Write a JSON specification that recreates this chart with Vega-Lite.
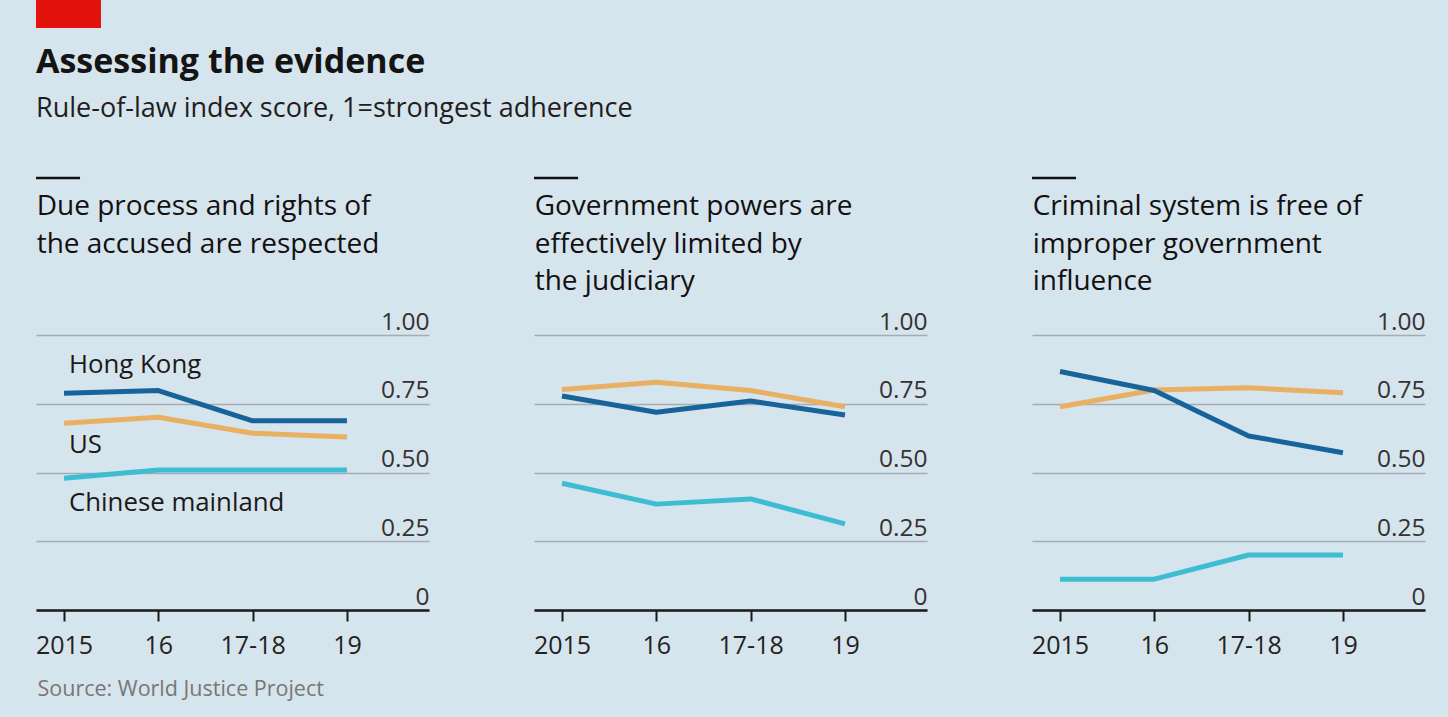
{
  "$schema": "https://vega.github.io/schema/vega-lite/v6.json",
  "background": "#d6e4ed",
  "padding": {"left": 34, "top": 0, "right": 25, "bottom": 20},
  "autosize": {"type": "pad"},
  "bounds": "flush",
  "spacing": 105,
  "title": {
    "text": "Assessing the evidence",
    "subtitle": "Rule-of-law index score, 1=strongest adherence",
    "anchor": "start",
    "frame": "group",
    "offset": -122,
    "font": "Open Sans",
    "fontSize": 34,
    "fontWeight": "bold",
    "color": "#141414",
    "subtitleFont": "Open Sans",
    "subtitleFontSize": 27,
    "subtitleColor": "#1e1e1e",
    "subtitlePadding": 16
  },
  "config": {
    "font": "Open Sans",
    "view": {"stroke": null},
    "axis": {"labelFont": "Open Sans", "titleFont": "Open Sans"}
  },
  "datasets": {
    "scores": [
      {"panel": "p1", "country": "US", "i": 0, "value": 0.679},
      {"panel": "p1", "country": "US", "i": 1, "value": 0.701},
      {"panel": "p1", "country": "US", "i": 2, "value": 0.643},
      {"panel": "p1", "country": "US", "i": 3, "value": 0.629},
      {"panel": "p1", "country": "Chinese mainland", "i": 0, "value": 0.479},
      {"panel": "p1", "country": "Chinese mainland", "i": 1, "value": 0.509},
      {"panel": "p1", "country": "Chinese mainland", "i": 2, "value": 0.509},
      {"panel": "p1", "country": "Chinese mainland", "i": 3, "value": 0.509},
      {"panel": "p1", "country": "Hong Kong", "i": 0, "value": 0.788},
      {"panel": "p1", "country": "Hong Kong", "i": 1, "value": 0.798},
      {"panel": "p1", "country": "Hong Kong", "i": 2, "value": 0.688},
      {"panel": "p1", "country": "Hong Kong", "i": 3, "value": 0.688},
      {"panel": "p2", "country": "US", "i": 0, "value": 0.802},
      {"panel": "p2", "country": "US", "i": 1, "value": 0.828},
      {"panel": "p2", "country": "US", "i": 2, "value": 0.798},
      {"panel": "p2", "country": "US", "i": 3, "value": 0.739},
      {"panel": "p2", "country": "Chinese mainland", "i": 0, "value": 0.461},
      {"panel": "p2", "country": "Chinese mainland", "i": 1, "value": 0.385},
      {"panel": "p2", "country": "Chinese mainland", "i": 2, "value": 0.404},
      {"panel": "p2", "country": "Chinese mainland", "i": 3, "value": 0.313},
      {"panel": "p2", "country": "Hong Kong", "i": 0, "value": 0.778},
      {"panel": "p2", "country": "Hong Kong", "i": 1, "value": 0.719},
      {"panel": "p2", "country": "Hong Kong", "i": 2, "value": 0.760},
      {"panel": "p2", "country": "Hong Kong", "i": 3, "value": 0.709},
      {"panel": "p3", "country": "US", "i": 0, "value": 0.739},
      {"panel": "p3", "country": "US", "i": 1, "value": 0.800},
      {"panel": "p3", "country": "US", "i": 2, "value": 0.808},
      {"panel": "p3", "country": "US", "i": 3, "value": 0.790},
      {"panel": "p3", "country": "Chinese mainland", "i": 0, "value": 0.112},
      {"panel": "p3", "country": "Chinese mainland", "i": 1, "value": 0.112},
      {"panel": "p3", "country": "Chinese mainland", "i": 2, "value": 0.200},
      {"panel": "p3", "country": "Chinese mainland", "i": 3, "value": 0.200},
      {"panel": "p3", "country": "Hong Kong", "i": 0, "value": 0.867},
      {"panel": "p3", "country": "Hong Kong", "i": 1, "value": 0.798},
      {"panel": "p3", "country": "Hong Kong", "i": 2, "value": 0.633},
      {"panel": "p3", "country": "Hong Kong", "i": 3, "value": 0.572}
    ],
    "one": [{"k": 1}]
  },
  "hconcat": [
    {
      "width": 393,
      "height": 275,
      "layer": [
        {
          "data": {"name": "scores"},
          "transform": [{"filter": "datum.panel == 'p1'"}],
          "mark": {"type": "line", "strokeWidth": 5, "strokeCap": "butt", "strokeJoin": "round", "clip": false},
          "encoding": {
            "x": {"field": "i", "type": "quantitative",
              "scale": {"domain": [-0.297, 3.87], "nice": false, "zero": false},
              "axis": {"values": [0, 1, 2, 3], "labelExpr": "datum.value == 0 ? '2015' : datum.value == 1 ? '16' : datum.value == 2 ? '17-18' : '19'",
                "grid": false, "domain": true, "domainColor": "#1a1a1a", "domainWidth": 2.5, "ticks": true, "tickColor": "#1a1a1a", "tickWidth": 2, "tickSize": 11,
                "labelPadding": 12, "labelFontSize": 25, "labelColor": "#222222", "labelFlush": false, "labelOverlap": false,
                "title": "Source: World Justice Project", "titleAnchor": "start", "titleAlign": "left", "titleX": 1, "titleY": 85, "titleBaseline": "alphabetic",
                "titleFontSize": 21.5, "titleFontWeight": "normal", "titleColor": "#777777"}},
            "y": {"field": "value", "type": "quantitative",
              "scale": {"domain": [0, 1], "nice": false, "zero": false},
              "axis": {"orient": "right", "values": [0, 0.25, 0.5, 0.75, 1], "grid": true, "gridColor": "#a3adb4", "gridWidth": 1.3,
                "domain": false, "ticks": false, "labelAlign": "right", "labelPadding": 0, "labelOffset": -6, "labelBaseline": "alphabetic",
                "labelFontSize": 24.5, "labelColor": "#333333", "labelFlush": false, "labelOverlap": false,
                "labelExpr": "datum.value == 0 ? '0' : format(datum.value, '.2f')", "title": null}},
            "color": {"field": "country", "type": "nominal",
              "scale": {"domain": ["Hong Kong", "US", "Chinese mainland"], "range": ["#17649a", "#e8b062", "#3dbdd1"]},
              "legend": null}
          }
        },
        {
          "data": {"name": "one"},
          "mark": {"type": "rect", "color": "#e3120b", "clip": false},
          "encoding": {"x": {"datum": -0.297}, "x2": {"datum": 0.392}, "y": {"datum": 2.218}, "y2": {"datum": 2.116}}
        },
        {
          "data": {"name": "one"},
          "mark": {"type": "rule", "color": "#111111", "strokeWidth": 2.5, "clip": false},
          "encoding": {"x": {"datum": -0.297}, "x2": {"datum": 0.17}, "y": {"datum": 1.571}}
        },
        {
          "data": {"name": "one"},
          "mark": {"type": "text", "text": ["Due process and rights of", "the accused are respected"], "align": "left", "baseline": "alphabetic", "fontSize": 28, "fontWeight": 500, "lineHeight": 37.5, "color": "#111111", "clip": false},
          "encoding": {"x": {"datum": -0.29}, "y": {"datum": 1.436}}
        },
        {
          "data": {"name": "one"},
          "mark": {"type": "text", "text": "Hong Kong", "align": "left", "baseline": "alphabetic", "fontSize": 25.8, "color": "#1a1a1a"},
          "encoding": {"x": {"datum": 0.053}, "y": {"datum": 0.862}}
        },
        {
          "data": {"name": "one"},
          "mark": {"type": "text", "text": "US", "align": "left", "baseline": "alphabetic", "fontSize": 25.8, "color": "#1a1a1a"},
          "encoding": {"x": {"datum": 0.053}, "y": {"datum": 0.571}}
        },
        {
          "data": {"name": "one"},
          "mark": {"type": "text", "text": "Chinese mainland", "align": "left", "baseline": "alphabetic", "fontSize": 25.8, "color": "#1a1a1a"},
          "encoding": {"x": {"datum": 0.053}, "y": {"datum": 0.361}}
        }
      ]
    },
    {
      "width": 393,
      "height": 275,
      "layer": [
        {
          "data": {"name": "scores"},
          "transform": [{"filter": "datum.panel == 'p2'"}],
          "mark": {"type": "line", "strokeWidth": 5, "strokeCap": "butt", "strokeJoin": "round", "clip": false},
          "encoding": {
            "x": {"field": "i", "type": "quantitative",
              "scale": {"domain": [-0.297, 3.87], "nice": false, "zero": false},
              "axis": {"values": [0, 1, 2, 3], "labelExpr": "datum.value == 0 ? '2015' : datum.value == 1 ? '16' : datum.value == 2 ? '17-18' : '19'",
                "grid": false, "domain": true, "domainColor": "#1a1a1a", "domainWidth": 2.5, "ticks": true, "tickColor": "#1a1a1a", "tickWidth": 2, "tickSize": 11,
                "labelPadding": 12, "labelFontSize": 25, "labelColor": "#222222", "labelFlush": false, "labelOverlap": false, "title": null}},
            "y": {"field": "value", "type": "quantitative",
              "scale": {"domain": [0, 1], "nice": false, "zero": false},
              "axis": {"orient": "right", "values": [0, 0.25, 0.5, 0.75, 1], "grid": true, "gridColor": "#a3adb4", "gridWidth": 1.3,
                "domain": false, "ticks": false, "labelAlign": "right", "labelPadding": 0, "labelOffset": -6, "labelBaseline": "alphabetic",
                "labelFontSize": 24.5, "labelColor": "#333333", "labelFlush": false, "labelOverlap": false,
                "labelExpr": "datum.value == 0 ? '0' : format(datum.value, '.2f')", "title": null}},
            "color": {"field": "country", "type": "nominal",
              "scale": {"domain": ["Hong Kong", "US", "Chinese mainland"], "range": ["#17649a", "#e8b062", "#3dbdd1"]},
              "legend": null}
          }
        },
        {
          "data": {"name": "one"},
          "mark": {"type": "rule", "color": "#111111", "strokeWidth": 2.5, "clip": false},
          "encoding": {"x": {"datum": -0.297}, "x2": {"datum": 0.17}, "y": {"datum": 1.571}}
        },
        {
          "data": {"name": "one"},
          "mark": {"type": "text", "text": ["Government powers are", "effectively limited by", "the judiciary"], "align": "left", "baseline": "alphabetic", "fontSize": 28, "fontWeight": 500, "lineHeight": 37.5, "color": "#111111", "clip": false},
          "encoding": {"x": {"datum": -0.29}, "y": {"datum": 1.436}}
        }
      ]
    },
    {
      "width": 393,
      "height": 275,
      "layer": [
        {
          "data": {"name": "scores"},
          "transform": [{"filter": "datum.panel == 'p3'"}],
          "mark": {"type": "line", "strokeWidth": 5, "strokeCap": "butt", "strokeJoin": "round", "clip": false},
          "encoding": {
            "x": {"field": "i", "type": "quantitative",
              "scale": {"domain": [-0.297, 3.87], "nice": false, "zero": false},
              "axis": {"values": [0, 1, 2, 3], "labelExpr": "datum.value == 0 ? '2015' : datum.value == 1 ? '16' : datum.value == 2 ? '17-18' : '19'",
                "grid": false, "domain": true, "domainColor": "#1a1a1a", "domainWidth": 2.5, "ticks": true, "tickColor": "#1a1a1a", "tickWidth": 2, "tickSize": 11,
                "labelPadding": 12, "labelFontSize": 25, "labelColor": "#222222", "labelFlush": false, "labelOverlap": false, "title": null}},
            "y": {"field": "value", "type": "quantitative",
              "scale": {"domain": [0, 1], "nice": false, "zero": false},
              "axis": {"orient": "right", "values": [0, 0.25, 0.5, 0.75, 1], "grid": true, "gridColor": "#a3adb4", "gridWidth": 1.3,
                "domain": false, "ticks": false, "labelAlign": "right", "labelPadding": 0, "labelOffset": -6, "labelBaseline": "alphabetic",
                "labelFontSize": 24.5, "labelColor": "#333333", "labelFlush": false, "labelOverlap": false,
                "labelExpr": "datum.value == 0 ? '0' : format(datum.value, '.2f')", "title": null}},
            "color": {"field": "country", "type": "nominal",
              "scale": {"domain": ["Hong Kong", "US", "Chinese mainland"], "range": ["#17649a", "#e8b062", "#3dbdd1"]},
              "legend": null}
          }
        },
        {
          "data": {"name": "one"},
          "mark": {"type": "rule", "color": "#111111", "strokeWidth": 2.5, "clip": false},
          "encoding": {"x": {"datum": -0.297}, "x2": {"datum": 0.17}, "y": {"datum": 1.571}}
        },
        {
          "data": {"name": "one"},
          "mark": {"type": "text", "text": ["Criminal system is free of", "improper government", "influence"], "align": "left", "baseline": "alphabetic", "fontSize": 28, "fontWeight": 500, "lineHeight": 37.5, "color": "#111111", "clip": false},
          "encoding": {"x": {"datum": -0.29}, "y": {"datum": 1.436}}
        }
      ]
    }
  ]
}
